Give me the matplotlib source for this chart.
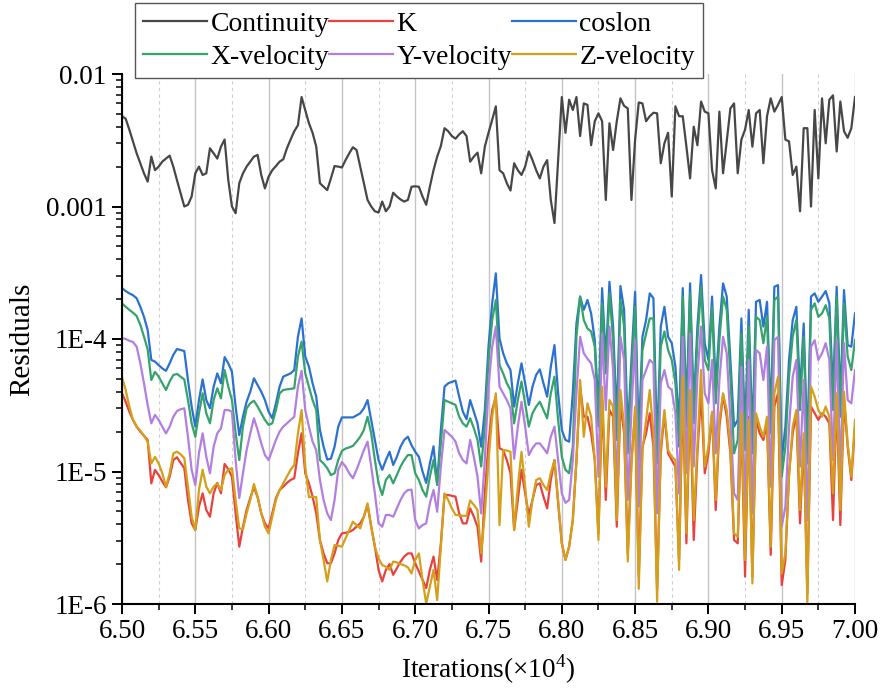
import matplotlib
matplotlib.use("Agg")
import matplotlib.pyplot as plt
import numpy as np
from matplotlib.ticker import MultipleLocator, LogLocator, NullFormatter, FormatStrFormatter

plt.rcParams['font.family'] = ['Liberation Serif', 'DejaVu Serif']
plt.rcParams['mathtext.fontset'] = 'custom'
plt.rcParams['mathtext.rm'] = 'Liberation Serif'

# --- DATA (every 25 iterations) ---
iterations = np.arange(65000, 70001, 25) / 1e4

continuity_e3 = [
    4.8, 4.6, 3.8, 3.1, 2.52, 2.12, 1.78, 1.54, 2.38, 1.88,
    2.0, 2.18, 2.3, 2.42, 2.0, 1.58, 1.26, 1.0, 1.03, 1.19,
    1.78, 2.0, 1.73, 1.78, 2.75, 2.52, 2.3, 2.83, 3.2, 1.58,
    1.0, 0.89, 1.5, 1.78, 2.0, 2.18, 2.38, 2.45, 1.73, 1.37,
    1.68, 1.88, 2.02, 2.18, 2.27, 2.75, 3.2, 3.7, 4.1, 6.7,
    5.35, 4.25, 3.6, 2.83, 1.5, 1.41, 1.33, 1.63, 2.02, 2.0,
    1.97, 2.24, 2.52, 2.8, 2.67, 2.0, 1.5, 1.12, 1.0, 0.92,
    0.9, 1.09, 0.92, 1.0, 1.27, 1.19, 1.13, 1.09, 1.12, 1.41,
    1.42, 1.41, 1.19, 1.03, 1.41, 1.88, 2.38, 2.86, 3.9, 3.7,
    3.4, 3.25, 3.5, 3.7, 3.4, 2.18, 2.38, 2.55, 1.78, 2.83,
    3.6, 4.5, 5.7, 1.88, 1.78, 1.5, 1.32, 2.12, 1.88, 1.73,
    2.0, 2.6, 2.24, 1.88, 1.63, 2.0, 2.24, 1.12, 0.75, 2.24,
    6.7, 3.6, 6.4, 5.35, 6.7, 3.4, 6.0, 5.85, 2.9, 4.4,
    5.05, 4.4, 1.12, 4.25, 2.67, 4.4, 6.55, 5.75, 5.5, 1.12,
    3.2, 6.1, 6.0, 4.4, 4.8, 5.1, 5.05, 2.12, 3.0, 3.6,
    1.19, 5.7, 4.8, 4.8, 2.83, 1.63, 4.0, 2.9, 6.2, 5.2,
    5.05, 1.88, 1.37, 5.2, 1.78, 3.1, 5.5, 6.0, 1.78, 3.2,
    3.8, 5.35, 2.83, 5.05, 5.35, 2.12, 4.8, 6.55, 5.2, 5.85,
    6.7, 3.2, 3.1, 1.73, 2.0, 0.92, 3.9, 3.9, 1.0, 5.35,
    1.63, 6.55, 3.0, 6.4, 6.9, 2.6, 6.2, 3.7, 3.3, 3.9,
    6.7]

k_e5 = [
    3.89, 3.36, 2.83, 2.45, 2.18, 2.0, 1.86, 1.73, 0.814, 1.03,
    0.94, 0.84, 0.76, 0.914, 1.22, 1.28, 1.16, 1.06, 0.61, 0.406,
    0.362, 0.543, 0.684, 0.512, 0.456, 0.684, 0.82, 0.684, 1.14, 1.04,
    0.914, 0.483, 0.271, 0.383, 0.512, 0.63, 0.76, 0.64, 0.483, 0.406,
    0.372, 0.483, 0.63, 0.725, 0.768, 0.82, 0.863, 0.89, 1.37, 1.94,
    0.97, 0.814, 0.646, 0.483, 0.304, 0.241, 0.203, 0.203, 0.241, 0.304,
    0.341, 0.345, 0.35, 0.362, 0.383, 0.406, 0.456, 0.56, 0.383, 0.271,
    0.181, 0.148, 0.181, 0.2, 0.166, 0.186, 0.209, 0.228, 0.241, 0.241,
    0.203, 0.176, 0.152, 0.132, 0.181, 0.228, 0.152, 0.287, 0.665, 0.665,
    0.655, 0.646, 0.483, 0.406, 0.406, 0.527, 0.456, 0.383, 0.209, 0.684,
    1.63, 2.91, 3.67, 1.5, 1.45, 1.22, 0.97, 0.362, 0.61, 1.03,
    0.684, 0.47, 0.61, 0.79, 0.814, 0.646, 0.527, 0.863, 1.22, 0.575,
    0.287, 0.215, 0.271, 0.43, 1.22, 4.37, 2.59, 2.59, 1.94, 1.22,
    0.341, 3.46, 0.61, 2.91, 2.59, 0.383, 3.27, 1.94, 0.241, 1.22,
    2.75, 0.161, 1.54, 1.94, 2.75, 1.54, 0.128, 1.37, 2.75, 1.37,
    1.22, 1.09, 0.215, 3.89, 0.287, 3.46, 0.304, 1.37, 3.89, 0.97,
    1.37, 2.75, 0.512, 2.18, 3.78, 2.59, 1.37, 0.304, 0.287, 2.45,
    0.161, 2.59, 0.161, 2.45, 1.94, 1.73, 2.31, 0.235, 3.09, 3.89,
    0.139, 0.215, 0.97, 1.94, 2.75, 0.406, 1.73, 0.12, 3.09, 2.75,
    2.45, 2.75, 2.59, 2.31, 0.43, 3.46, 0.394, 3.46, 1.54, 0.863,
    2.18]

coslon_e5 = [
    24.2, 23.0, 22.1, 21.4, 20.3, 17.5, 14.7, 11.7, 6.95, 6.75,
    6.35, 6.0, 5.75, 6.55, 7.6, 8.4, 8.26, 8.1, 4.9, 3.09,
    2.18, 3.46, 4.95, 3.46, 3.0, 4.37, 5.5, 4.63, 7.3, 6.55,
    5.65, 3.09, 1.88, 2.59, 3.36, 4.0, 5.05, 4.5, 4.0, 3.46,
    2.83, 2.52, 3.27, 4.37, 5.2, 5.35, 5.5, 5.83, 10.4, 14.3,
    7.36, 6.18, 4.63, 3.67, 2.06, 1.54, 1.23, 1.25, 1.54, 2.18,
    2.56, 2.56, 2.56, 2.56, 2.65, 2.75, 3.0, 3.46, 2.45, 1.73,
    1.22, 1.03, 1.22, 1.41, 1.12, 1.29, 1.54, 1.73, 1.83, 1.58,
    1.41, 1.29, 1.0, 0.82, 1.15, 1.55, 0.814, 2.06, 4.37, 4.63,
    4.75, 4.85, 3.67, 2.83, 2.48, 3.46, 2.83, 2.31, 1.54, 2.91,
    8.75, 18.6, 31.3, 10.1, 7.8, 6.55, 5.83, 3.09, 4.63, 6.55,
    4.63, 3.18, 4.37, 5.35, 5.9, 4.63, 3.67, 6.18, 9.0, 3.89,
    2.06, 1.73, 1.68, 3.89, 13.1, 20.9, 16.6, 19.7, 15.6, 9.8,
    2.91, 24.2, 6.95, 27.0, 12.4, 2.45, 25.1, 16.6, 1.94, 6.95,
    22.7, 1.73, 10.4, 13.9, 22.1, 20.3, 1.54, 12.4, 17.5, 10.4,
    9.3, 6.18, 2.18, 24.2, 2.91, 26.3, 3.09, 12.4, 30.4, 9.3,
    6.95, 20.9, 4.37, 12.4, 26.3, 20.9, 6.95, 2.18, 2.45, 14.3,
    1.94, 16.6, 1.83, 19.1, 19.7, 12.4, 19.1, 2.59, 24.8, 25.5,
    1.22, 2.18, 6.95, 13.9, 17.5, 3.89, 13.1, 1.54, 20.9, 22.1,
    19.1, 20.9, 23.0, 18.6, 3.89, 24.8, 3.46, 23.4, 9.0, 8.75,
    15.6]

xvel_e5 = [
    18.6, 17.5, 16.6, 15.8, 14.9, 12.8, 10.4, 8.35, 4.9, 5.65,
    5.2, 4.63, 4.12, 4.77, 5.35, 5.45, 5.2, 4.95, 3.46, 2.31,
    1.83, 2.75, 3.89, 2.75, 2.31, 3.46, 4.25, 3.56, 5.83, 4.37,
    3.46, 1.94, 1.22, 2.18, 3.0, 3.27, 3.42, 3.09, 2.75, 2.45,
    2.25, 2.31, 2.91, 3.89, 4.12, 4.17, 4.2, 4.25, 7.36, 9.55,
    5.5, 4.37, 3.46, 2.91, 1.22, 1.15, 1.06, 0.94, 0.97, 1.22,
    1.43, 1.49, 1.52, 1.56, 1.68, 1.83, 2.06, 2.59, 1.94, 1.22,
    0.814, 0.665, 0.863, 0.94, 0.814, 0.94, 1.09, 1.22, 1.33, 1.33,
    0.97, 0.863, 0.725, 0.646, 0.914, 1.22, 0.79, 1.63, 3.46, 3.36,
    3.27, 3.18, 2.59, 2.31, 2.18, 2.52, 2.12, 1.73, 1.09, 2.18,
    6.95, 13.9, 19.7, 6.35, 5.5, 4.63, 4.12, 2.31, 3.46, 4.77,
    3.27, 2.18, 2.75, 3.09, 3.36, 2.91, 2.52, 3.89, 5.2, 2.45,
    1.29, 1.03, 0.97, 1.54, 10.4, 20.9, 13.9, 12.0, 11.4, 8.75,
    2.18, 18.6, 5.5, 22.1, 9.8, 1.73, 19.7, 12.4, 1.37, 5.5,
    17.5, 1.22, 8.26, 11.0, 14.3, 14.3, 1.15, 8.75, 11.4, 8.26,
    6.95, 4.63, 1.54, 20.9, 2.18, 22.1, 2.31, 9.8, 24.8, 6.95,
    5.83, 17.5, 3.27, 9.8, 20.9, 16.6, 5.2, 1.37, 1.73, 11.0,
    1.45, 12.4, 1.37, 14.7, 13.9, 9.3, 14.7, 1.94, 19.7, 20.9,
    0.914, 1.54, 5.2, 10.4, 13.9, 2.91, 10.4, 1.15, 16.6, 18.6,
    14.7, 15.6, 18.0, 14.3, 2.91, 20.9, 2.59, 18.6, 7.36, 5.83,
    9.8]

yvel_e5 = [
    10.2, 10.0, 9.7, 9.5, 8.75, 6.55, 4.63, 3.18, 2.31, 2.67,
    2.45, 2.18, 1.94, 2.18, 2.59, 2.86, 2.95, 3.0, 1.83, 1.03,
    0.79, 1.37, 1.94, 1.29, 0.97, 1.54, 1.94, 2.12, 2.91, 2.91,
    2.83, 1.22, 0.63, 0.97, 1.45, 1.94, 2.52, 2.06, 1.63, 1.33,
    1.22, 1.45, 1.73, 2.0, 2.18, 2.31, 2.45, 2.59, 4.37, 5.75,
    2.91, 2.18, 1.68, 1.45, 0.863, 0.61, 0.483, 0.43, 0.61, 1.03,
    1.18, 1.09, 0.97, 0.89, 1.03, 1.22, 1.45, 1.68, 1.09, 0.684,
    0.406, 0.383, 0.47, 0.47, 0.456, 0.527, 0.61, 0.684, 0.725, 0.73,
    0.43, 0.372, 0.394, 0.406, 0.575, 0.725, 0.497, 1.09, 2.06, 1.94,
    1.83, 1.68, 1.37, 1.22, 1.15, 1.73, 1.29, 0.914, 0.483, 1.22,
    4.37, 8.75, 12.4, 4.37, 3.89, 3.46, 3.0, 1.25, 2.18, 3.36,
    2.18, 1.33, 1.5, 1.63, 1.63, 1.5, 1.37, 1.83, 2.18, 1.22,
    0.684, 0.58, 0.61, 1.22, 3.89, 10.4, 7.8, 7.1, 6.55, 4.9,
    0.914, 11.0, 2.91, 12.4, 5.83, 0.684, 10.4, 6.95, 0.61, 2.91,
    9.8, 0.543, 4.9, 5.83, 6.95, 6.55, 0.483, 4.63, 5.83, 4.37,
    4.12, 2.75, 0.684, 10.4, 0.97, 11.0, 1.09, 5.2, 12.4, 3.89,
    3.27, 6.95, 1.37, 4.9, 10.4, 7.8, 2.45, 0.684, 0.61, 6.18,
    0.543, 6.95, 0.483, 8.26, 7.8, 4.9, 8.75, 0.768, 9.8, 10.4,
    0.383, 0.543, 2.18, 5.2, 6.95, 1.09, 4.9, 0.43, 8.75, 9.8,
    6.95, 7.8, 9.3, 6.95, 1.22, 9.8, 0.97, 9.3, 3.46, 3.27,
    5.83]

zvel_e5 = [
    5.15, 4.12, 3.09, 2.45, 2.18, 2.03, 1.86, 1.68, 1.15, 1.29,
    1.15, 0.97, 0.768, 0.97, 1.37, 1.41, 1.35, 1.26, 0.768, 0.456,
    0.362, 0.725, 1.03, 0.768, 0.684, 0.768, 0.814, 0.725, 0.94, 1.03,
    1.06, 0.61, 0.372, 0.366, 0.483, 0.61, 0.805, 0.646, 0.483, 0.383,
    0.341, 0.456, 0.61, 0.725, 0.814, 0.914, 1.03, 1.12, 1.94, 2.91,
    1.09, 0.64, 0.646, 0.64, 0.304, 0.215, 0.148, 0.215, 0.279, 0.275,
    0.271, 0.313, 0.362, 0.418, 0.394, 0.372, 0.456, 0.575, 0.383, 0.271,
    0.221, 0.197, 0.191, 0.181, 0.209, 0.206, 0.2, 0.196, 0.189, 0.17,
    0.215, 0.241, 0.152, 0.101, 0.135, 0.181, 0.107, 0.271, 0.684, 0.61,
    0.527, 0.47, 0.468, 0.463, 0.463, 0.605, 0.56, 0.512, 0.241, 0.483,
    1.22, 2.59, 3.89, 0.394, 1.45, 1.44, 1.41, 0.362, 0.768, 1.41,
    0.768, 0.383, 0.61, 0.863, 0.89, 0.79, 0.725, 0.97, 1.22, 0.61,
    0.287, 0.215, 0.271, 0.43, 1.22, 4.9, 1.83, 3.27, 2.59, 1.22,
    0.304, 4.37, 0.768, 3.46, 3.09, 0.43, 4.12, 2.18, 0.209, 1.09,
    3.09, 0.13, 1.45, 2.45, 4.12, 1.94, 0.104, 1.54, 2.91, 1.45,
    1.29, 1.22, 0.181, 5.2, 0.341, 4.12, 0.43, 1.54, 5.83, 1.09,
    1.54, 2.83, 0.61, 2.45, 3.89, 2.91, 1.54, 0.341, 0.322, 2.75,
    0.215, 2.45, 0.143, 2.75, 2.18, 1.83, 2.59, 0.271, 3.89, 5.2,
    0.17, 0.241, 0.914, 2.18, 2.91, 0.512, 1.94, 0.101, 4.37, 3.67,
    2.91, 2.59, 3.09, 2.59, 0.684, 3.89, 0.512, 4.0, 1.63, 0.914,
    2.45]

series = [
    ('Continuity', np.array(continuity_e3) * 1e-3, '#474747'),
    ('K', np.array(k_e5) * 1e-5, '#e8413e'),
    ('coslon', np.array(coslon_e5) * 1e-5, '#2b72d0'),
    ('X-velocity', np.array(xvel_e5) * 1e-5, '#35a36b'),
    ('Y-velocity', np.array(yvel_e5) * 1e-5, '#b27fe0'),
    ('Z-velocity', np.array(zvel_e5) * 1e-5, '#d4a01a'),
]

# --- PLOT ---
fig = plt.figure(figsize=(8.82, 6.91), dpi=100)
ax = fig.add_axes([122 / 882, 1 - 604 / 691, (855 - 122) / 882, (604 - 74) / 691])

lines = {}
for name, vals, col in series:
    lines[name], = ax.plot(iterations, vals, color=col, lw=1.6, label=name)

ax.set_yscale('log')
ax.set_ylim(1e-6, 1e-2)
ax.set_xlim(6.50, 7.00)

ax.set_yticks([1e-6, 1e-5, 1e-4, 1e-3, 1e-2])
ax.set_yticklabels(['1E-6', '1E-5', '1E-4', '0.001', '0.01'])
ax.yaxis.set_minor_locator(LogLocator(base=10, subs=np.arange(2, 10)))
ax.yaxis.set_minor_formatter(NullFormatter())

ax.xaxis.set_major_locator(MultipleLocator(0.05))
ax.xaxis.set_minor_locator(MultipleLocator(0.025))
ax.xaxis.set_major_formatter(FormatStrFormatter('%.2f'))

ax.grid(which='major', axis='x', color='#c4c4c4', lw=1.0)
ax.grid(which='minor', axis='x', color='#cfcfcf', lw=0.8, ls=(0, (3, 3)))
ax.set_axisbelow(True)

for side in ['top', 'right']:
    ax.spines[side].set_visible(False)
for side in ['left', 'bottom']:
    ax.spines[side].set_linewidth(1.5)

ax.tick_params(which='major', direction='out', length=7, width=1.4, labelsize=19.5, pad=4)
ax.tick_params(which='minor', direction='out', length=4, width=1.1)

ax.set_ylabel('Residuals', fontsize=21, labelpad=8)
ax.set_xlabel('Iterations(×10$^{4}$)', fontsize=19.5, labelpad=6)

order = ['Continuity', 'X-velocity', 'K', 'Y-velocity', 'coslon', 'Z-velocity']
leg = fig.legend([lines[n] for n in order], order, ncol=3, loc='upper left',
                 bbox_to_anchor=(135 / 882, 1 - 3 / 691), fontsize=20,
                 frameon=True, fancybox=False, framealpha=1, edgecolor='#555555',
                 handlelength=2.3, handletextpad=0.12, columnspacing=0.0,
                 borderpad=0.3, labelspacing=0.28, borderaxespad=0)
leg.get_frame().set_linewidth(1.0)

fig.savefig('out.png', dpi=100)
